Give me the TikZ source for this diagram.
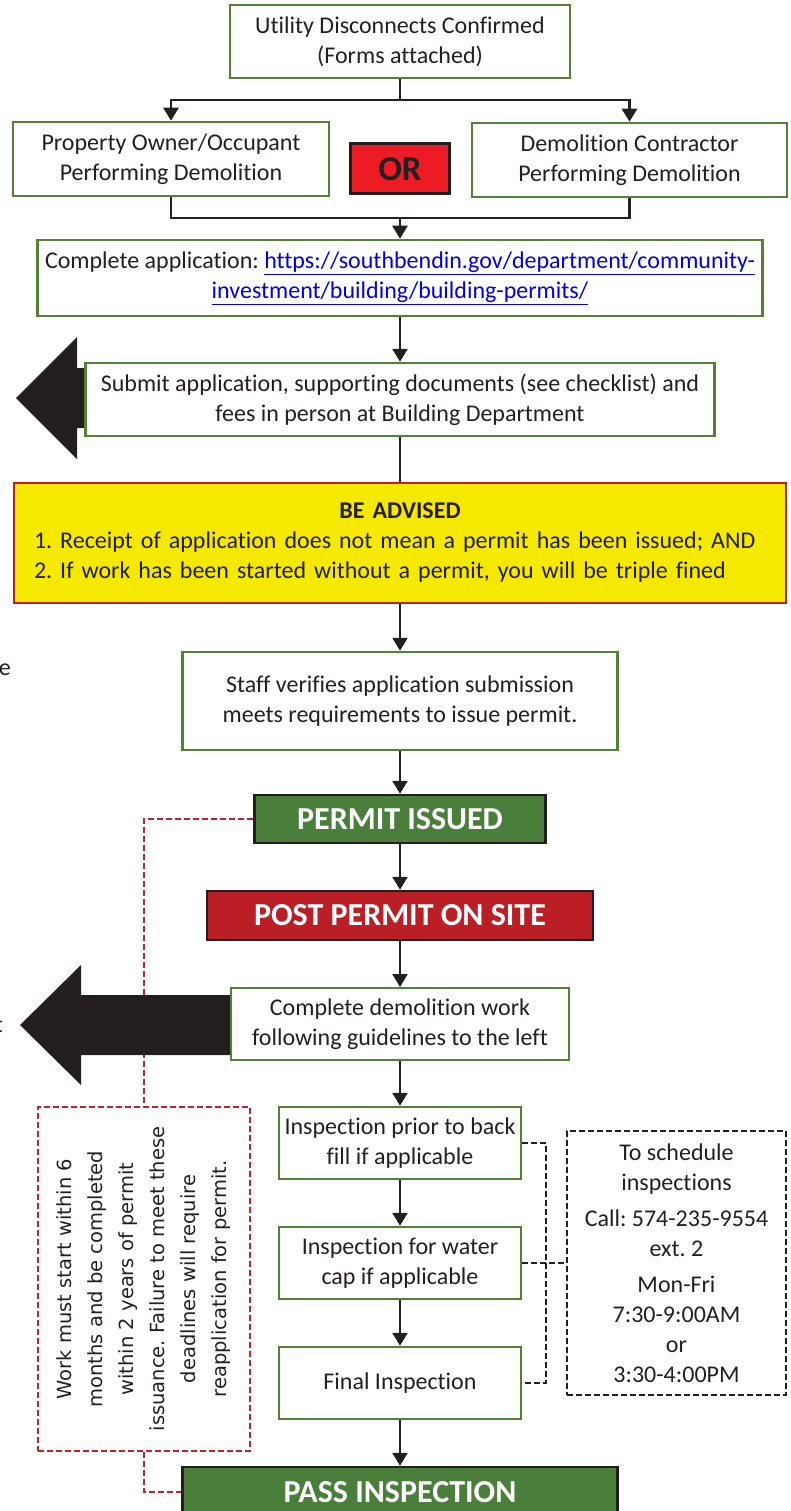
\documentclass[tikz,border=0pt]{standalone}
\usepackage{fontspec}
\setmainfont{Carlito}[Ligatures=NoCommon]
\newfontfamily\notefont{DejaVu Sans}
\usetikzlibrary{arrows.meta,backgrounds}
\definecolor{boxgreen}{RGB}{84,130,53}
\definecolor{fillgreen}{RGB}{74,126,59}
\definecolor{postred}{RGB}{187,30,36}
\definecolor{orred}{RGB}{237,28,36}
\definecolor{warnyellow}{RGB}{245,233,0}
\definecolor{warnred}{RGB}{192,30,40}
\definecolor{ink}{RGB}{35,31,32}
\definecolor{linkblue}{RGB}{0,0,238}
\definecolor{dashred}{RGB}{200,32,42}
\frenchspacing

\begin{document}
\begin{tikzpicture}[x=1pt, y=-1pt, font=\fontsize{24}{30}\selectfont, text=ink,
  stepbox/.style={draw=boxgreen, line width=2.5pt, fill=white, align=center, inner sep=0pt},
  banner/.style={draw=ink, line width=2.5pt, text=white, font=\fontsize{32}{34}\selectfont\bfseries, inner sep=0pt},
  wire/.style={ink, line width=2.5pt},
  flow/.style={wire, -{Triangle[width=15pt,length=13pt]}},
  reddash/.style={dashred, line width=2pt, dash pattern=on 6pt off 3pt},
  blackdash/.style={ink, line width=2pt, dash pattern=on 6pt off 3pt},
  bigarrow/.style={fill=ink}]
\useasboundingbox (0,0) rectangle (790,1511);

% big arrows pointing to the guidelines on the left
\fill[bigarrow] (95,368) -- (77,368) -- (77,337) -- (16,398) -- (77,459) -- (77,428) -- (95,428) -- cycle;
\fill[bigarrow] (240,995) -- (81,995) -- (81,965) -- (20,1025) -- (81,1085) -- (81,1055) -- (240,1055) -- cycle;
\node[anchor=east, inner sep=0pt] (cut1) at (11,670) {e};
\node[anchor=east, inner sep=0pt] (cut2) at (3,1025) {t};

\node[stepbox, minimum width=340pt, minimum height=73pt] (util) at (400,41.5) {Utility Disconnects Confirmed\\(Forms attached)};
\node[stepbox, minimum width=316pt, minimum height=74pt] (owner) at (171,159) {Property Owner/Occupant\\Performing Demolition};
\node[draw=ink, line width=3pt, fill=orred, minimum width=99pt, minimum height=50pt, inner sep=0pt, font=\fontsize{35}{36}\selectfont\bfseries] (choice) at (400,169) {OR};
\node[stepbox, minimum width=315pt, minimum height=74pt] (contractor) at (629.5,160) {Demolition Contractor\\Performing Demolition};
\node[stepbox, minimum width=725pt, minimum height=76pt] (apply) at (400,278) {Complete application: {\color{linkblue}\underline{https://southbendin.gov/department/community-}}\\{\color{linkblue}\underline{investment/building/building-permits/}}};
\node[stepbox, minimum width=629pt, minimum height=73pt] (submit) at (400,399.5) {Submit application, supporting documents (see checklist) and\\fees in person at Building Department};
\node[draw=warnred, line width=2.5pt, fill=warnyellow, text width=732pt, inner xsep=20pt, inner ysep=0pt, minimum height=120pt, align=left] (advise) at (400,543) {\makebox[732pt]{\textbf{BE ADVISED}}\\1. Receipt of application does not mean a permit has been issued; AND\\2. If work has been started without a permit, you will be triple fined};
\node[stepbox, minimum width=435pt, minimum height=98pt] (staff) at (400,701) {Staff verifies application submission\\meets requirements to issue permit.};
\node[banner, fill=fillgreen, minimum width=291pt, minimum height=48pt] (issued) at (400,819) {PERMIT ISSUED};
\node[banner, fill=postred, minimum width=386pt, minimum height=49pt] (post) at (400,915.5) {POST PERMIT ON SITE};
\node[stepbox, line width=2pt, minimum width=338pt, minimum height=72pt] (work) at (400,1024) {Complete demolition work\\following guidelines to the left};
\node[stepbox, minimum width=242pt, minimum height=72pt] (insp1) at (400,1143) {Inspection prior to back\\fill if applicable};
\node[stepbox, minimum width=242pt, minimum height=72pt] (insp2) at (400,1263) {Inspection for water\\cap if applicable};
\node[stepbox, minimum width=242pt, minimum height=72pt] (insp3) at (400,1383) {Final Inspection};
\node[banner, fill=fillgreen, minimum width=435pt, minimum height=50pt] (pass) at (400,1492) {PASS INSPECTION};
\node[blackdash, draw, minimum width=219pt, minimum height=264pt, align=center, inner sep=0pt, text=ink] (sched) at (676.5,1263) {To schedule\\inspections\\[6pt]Call: 574-235-9554\\ext. 2\\[6pt]Mon-Fri\\7:30-9:00AM\\or\\3:30-4:00PM};
\node[reddash, draw, minimum width=212pt, minimum height=344pt] (note) at (144,1279) {};
\node[rotate=90, align=center, inner sep=0pt, font=\notefont\fontsize{19.5}{31}\selectfont] (notetext) at (note.center) {Work must start within 6\\months and be completed\\within 2 years of permit\\issuance. Failure to meet these\\deadlines will require\\reapplication for permit.};

\coordinate (split) at (400,100);
\coordinate (merge) at (400,218);
\draw[wire] (util.south) -- (split);
\draw[flow] (split) -| (owner.north);
\draw[flow] (split) -| (contractor.north);
\draw[wire] (owner.south) |- (merge) -| (contractor.south);
\draw[flow] (merge) -- (apply.north);
\draw[flow] (apply) -- (submit);
\draw[wire] (submit) -- (advise);
\draw[flow] (advise) -- (staff);
\draw[flow] (staff) -- (issued);
\draw[flow] (issued) -- (post);
\draw[flow] (post) -- (work);
\draw[flow] (work) -- (insp1);
\draw[flow] (insp1) -- (insp2);
\draw[flow] (insp2) -- (insp3);
\draw[flow] (insp3) -- (pass);
\draw[blackdash] (insp1.east) -- ++(24,0) |- (insp3.east);
\draw[blackdash] (insp2.east) -- (sched.west);
\begin{scope}[on background layer]
\draw[reddash] (issued.west) -| (note.north);
\draw[reddash] (note.south) |- (pass.west);
\end{scope}
\end{tikzpicture}
\end{document}
